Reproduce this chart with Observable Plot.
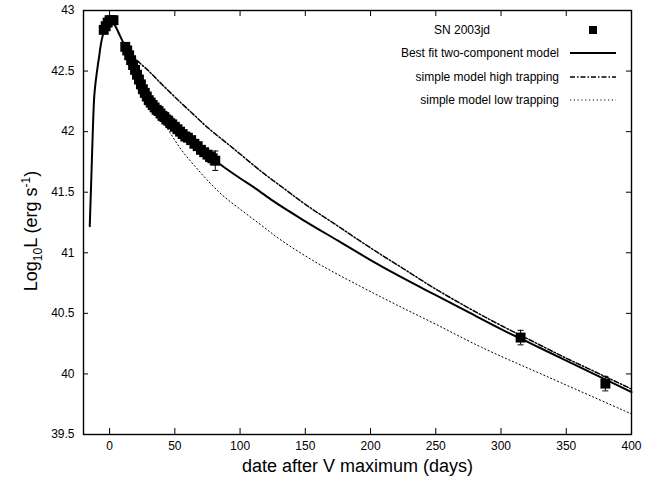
<!DOCTYPE html>
<html>
<head>
<meta charset="utf-8">
<script src="https://cdn.jsdelivr.net/npm/d3@7"></script>
<script src="https://cdn.jsdelivr.net/npm/@observablehq/plot@0.6"></script>
<style>
  html, body { margin: 0; padding: 0; background: white; }
  svg { display: block; }
</style>
</head>
<body>
<div id="chart"></div>
<script>
// ---- Data ----
const obsDay  = [-4.5, -3, -1.5, 0, 1.5, 3,
  12, 13.5, 15, 16.5, 18, 19.5, 21, 22.5, 24, 25.5, 27, 28.5, 30, 31.5, 33, 34.5, 36, 37.5, 39, 40.5,
  42, 43.5, 45, 46.5, 48, 50, 52, 54, 56, 58, 60, 62.5, 65, 67.5, 70, 72.5, 75, 77, 79, 81,
  315, 380];
const obsLogL = [42.84, 42.87, 42.90, 42.92, 42.92, 42.92,
  42.70, 42.67, 42.63, 42.59, 42.55, 42.51, 42.47, 42.43, 42.39, 42.35, 42.32, 42.29, 42.26, 42.24, 42.22, 42.20, 42.18, 42.17, 42.15, 42.13,
  42.12, 42.10, 42.09, 42.07, 42.06, 42.04, 42.02, 42.00, 41.98, 41.96, 41.95, 41.93, 41.90, 41.88, 41.85, 41.83, 41.81, 41.79, 41.78, 41.76,
  40.30, 39.92];
const obsErr  = [0.03, 0.03, 0.03, 0.03, 0.03, 0.03,
  0.03, 0.03, 0.03, 0.03, 0.03, 0.03, 0.03, 0.03, 0.03, 0.03, 0.03, 0.03, 0.03, 0.03, 0.03, 0.03, 0.03, 0.03, 0.03, 0.03,
  0.03, 0.03, 0.03, 0.03, 0.03, 0.03, 0.03, 0.03, 0.03, 0.03, 0.03, 0.03, 0.03, 0.03, 0.03, 0.03, 0.03, 0.04, 0.05, 0.08,
  0.06, 0.06];

const fitDay  = [-15.2, -14, -13, -12, -11, -10, -9, -8, -7, -6, -4, -2, 0, 2, 5, 8, 12, 16, 20, 25, 30, 35, 40, 45, 50, 55, 60, 70, 81, 90, 100, 112, 125, 150, 175, 200, 225, 250, 275, 300, 325, 350, 375, 400];
const fitLogL = [41.22, 41.62, 41.96, 42.25, 42.38, 42.47, 42.55, 42.62, 42.70, 42.76, 42.84, 42.89, 42.92, 42.91, 42.86, 42.79, 42.70, 42.59, 42.47, 42.35, 42.26, 42.19, 42.13, 42.08, 42.04, 41.99, 41.95, 41.86, 41.76, 41.69, 41.615, 41.53, 41.43, 41.26, 41.10, 40.94, 40.79, 40.65, 40.51, 40.37, 40.24, 40.11, 39.98, 39.85];

const highDay  = [11, 19, 30, 42, 55, 65, 75, 95, 117, 135, 150, 175, 200, 225, 250, 275, 300, 325, 350, 375, 400];
const highLogL = [42.72, 42.61, 42.50, 42.37, 42.235, 42.135, 42.035, 41.86, 41.665, 41.52, 41.40, 41.22, 41.04, 40.87, 40.70, 40.545, 40.40, 40.265, 40.13, 40.003, 39.875];

const lowDay  = [11, 20, 30, 43, 55, 65, 74, 86, 100, 116, 132, 160, 191, 220, 250, 285, 337, 400];
const lowLogL = [42.72, 42.50, 42.29, 42.05, 41.85, 41.72, 41.61, 41.48, 41.36, 41.23, 41.10, 40.91, 40.73, 40.57, 40.41, 40.22, 39.97, 39.67];

const xTicks = [0, 50, 100, 150, 200, 250, 300, 350, 400];
const yTicks = [39.5, 40, 40.5, 41, 41.5, 42, 42.5, 43];
const legendLabels = ["SN 2003jd", "Best fit two-component model", "simple model high trapping", "simple model low trapping"];
const xTitle = "date after V maximum (days)";

// ---- Build tables ----
const obs  = obsDay.map((d, i) => ({day: d, L: obsLogL[i], e: obsErr[i]}));
const fit  = fitDay.map((d, i) => ({day: d, L: fitLogL[i]}));
const high = highDay.map((d, i) => ({day: d, L: highLogL[i]}));
const low  = lowDay.map((d, i) => ({day: d, L: lowLogL[i]}));

const W = 662, H = 481, mL = 83, mR = 31, mT = 10, mB = 47;
const innerW = W - mL - mR, innerH = H - mT - mB;
const capSymbol = { draw(ctx) { ctx.moveTo(-3, 0); ctx.lineTo(3, 0); } };
const font = "'Liberation Sans', Arial, Helvetica, sans-serif";
const dashHigh = "5,2,1.5,2";
const dashLow = "1.2,2.6";

const chart = Plot.plot({
  width: W, height: H,
  marginLeft: mL, marginRight: mR, marginTop: mT, marginBottom: mB,
  x: {domain: [-20, 400]},
  y: {domain: [39.5, 43]},
  style: {fontFamily: font, fontSize: "12px", color: "black", background: "white"},
  marks: [
    // inward ticks on all four sides
    Plot.ruleX(xTicks, {x: d => d, insetTop: innerH - 6, stroke: "black"}),
    Plot.ruleX(xTicks, {x: d => d, insetBottom: innerH - 6, stroke: "black"}),
    Plot.ruleY(yTicks, {y: d => d, insetRight: innerW - 5, stroke: "black"}),
    Plot.ruleY(yTicks, {y: d => d, insetLeft: innerW - 5, stroke: "black"}),
    Plot.axisX(xTicks, {anchor: "bottom", tickSize: 0, tickPadding: 7, label: null, tickFormat: d => String(d), fontSize: 12}),
    Plot.axisY(yTicks, {anchor: "left", tickSize: 0, tickPadding: 9, label: null, tickFormat: d => String(d), fontSize: 12}),
    // model curves
    Plot.line(low,  {x: "day", y: "L", stroke: "black", strokeWidth: 1, strokeDasharray: dashLow, curve: "catmull-rom"}),
    Plot.line(high, {x: "day", y: "L", stroke: "black", strokeWidth: 1.5, strokeDasharray: dashHigh, curve: "catmull-rom"}),
    Plot.line(fit,  {x: "day", y: "L", stroke: "black", strokeWidth: 2, curve: "monotone-x"}),
    // error bars
    Plot.ruleX(obs, {x: "day", y1: d => d.L - d.e, y2: d => d.L + d.e, stroke: "black", strokeWidth: 1}),
    Plot.dot(obs, {x: "day", y: d => d.L - d.e, symbol: capSymbol, stroke: "black", strokeWidth: 1, r: 3}),
    Plot.dot(obs, {x: "day", y: d => d.L + d.e, symbol: capSymbol, stroke: "black", strokeWidth: 1, r: 3}),
    // observations
    Plot.dot(obs, {x: "day", y: "L", symbol: "square", r: 5.6, fill: "black", stroke: null}),
    Plot.frame({stroke: "black", strokeWidth: 1.4}),
    Plot.text([xTitle], {frameAnchor: "bottom", dy: 32, fontSize: 18, lineAnchor: "middle", fill: "black"})
  ]
});

document.getElementById("chart").appendChild(chart);

// ---- y-axis title with subscript / superscript ----
const svg = d3.select(chart);
const yt = svg.append("text")
  .attr("transform", "translate(31,231) rotate(-90)")
  .attr("text-anchor", "middle")
  .attr("font-family", font)
  .attr("font-size", 18)
  .attr("fill", "black")
  .attr("dy", "0.35em");
yt.append("tspan").text("Log");
yt.append("tspan").attr("font-size", 12).attr("dy", 5).text("10");
yt.append("tspan").attr("dy", -5).text("L (erg s");
yt.append("tspan").attr("font-size", 12).attr("dy", -7).text("-1");
yt.append("tspan").attr("dy", 7).text(")");

// ---- legend ----
const lg = svg.append("g").attr("font-family", font).attr("font-size", 12).attr("fill", "black");
const rowY = [30, 53, 77, 100];
lg.append("text").attr("x", 462).attr("y", rowY[0]).attr("dy", "0.35em").attr("text-anchor", "middle").text(legendLabels[0]);
lg.append("rect").attr("x", 589).attr("y", rowY[0] - 4).attr("width", 8).attr("height", 8).attr("fill", "black");
const styles = [
  {w: 2, dash: null},
  {w: 1.5, dash: dashHigh},
  {w: 1, dash: dashLow}
];
for (let i = 1; i < 4; i++) {
  lg.append("text").attr("x", 559).attr("y", rowY[i]).attr("dy", "0.35em").attr("text-anchor", "end").text(legendLabels[i]);
  const ln = lg.append("line").attr("x1", 570).attr("x2", 616).attr("y1", rowY[i]).attr("y2", rowY[i])
    .attr("stroke", "black").attr("stroke-width", styles[i - 1].w);
  if (styles[i - 1].dash) ln.attr("stroke-dasharray", styles[i - 1].dash);
}
</script>
</body>
</html>
